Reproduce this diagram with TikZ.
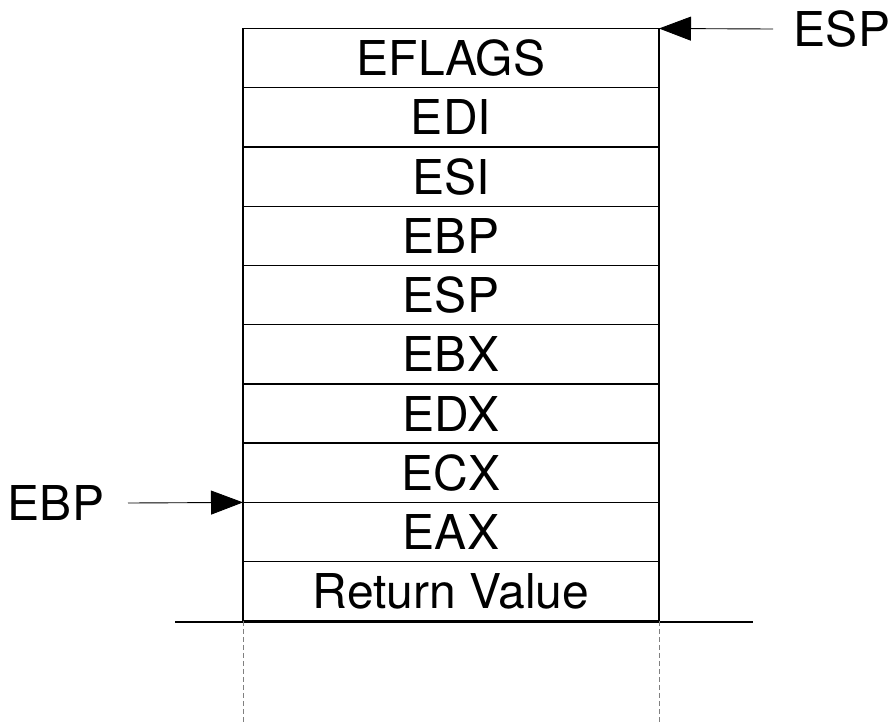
\documentclass[tikz,border=0pt]{standalone}
\usepackage{fontspec}
\setmainfont{TeX Gyre Heros}
\usetikzlibrary{positioning,arrows.meta}
\tikzset{
  cell/.style={draw, line width=0.7pt, minimum width=208pt, minimum height=29.62pt,
    inner sep=0pt, outer sep=0pt, font=\fontsize{24}{28}\selectfont},
  reglabel/.style={inner sep=0pt, font=\fontsize{24}{28}\selectfont},
  pointer/.style={line width=0.45pt, -{Triangle[length=16pt,width=12pt]}}
}
\begin{document}
\begin{tikzpicture}[x=0.5pt, y=-0.5pt]
		\useasboundingbox (0,0) rectangle (891,725);
		% stack cells, top to bottom
		\node[cell] (eflags) at (451,58.1) {EFLAGS};
		\foreach \name/\txt [remember=\name as \prev (initially eflags)] in
		  {edi/EDI, esi/ESI, ebp/EBP, esp/ESP, ebx/EBX, edx/EDX, ecx/ECX, eax/EAX, ret/Return Value}
		  \node[cell, below=0pt of \prev] (\name) {\txt};
		% base line and continuation
		\draw[line width=0.6pt] (175,622) -- (753,622);
		\draw[gray, line width=0.5pt, dash pattern=on 2.5pt off 1.5pt] (ret.south west) -- ++(0,103);
		\draw[gray, line width=0.5pt, dash pattern=on 2.5pt off 1.5pt] (ret.south east) -- ++(0,103);
		% register pointers
		\node[reglabel] (esplabel) at (842,29) {ESP};
		\coordinate (esptail) at (773,29);
		\draw[pointer] (esptail) -- (eflags.north east);
		\node[reglabel] (ebplabel) at (56,503) {EBP};
		\coordinate (ebptail) at (128,503);
		\draw[pointer] (ebptail) -- (ecx.south west);
		\end{tikzpicture}
\end{document}
